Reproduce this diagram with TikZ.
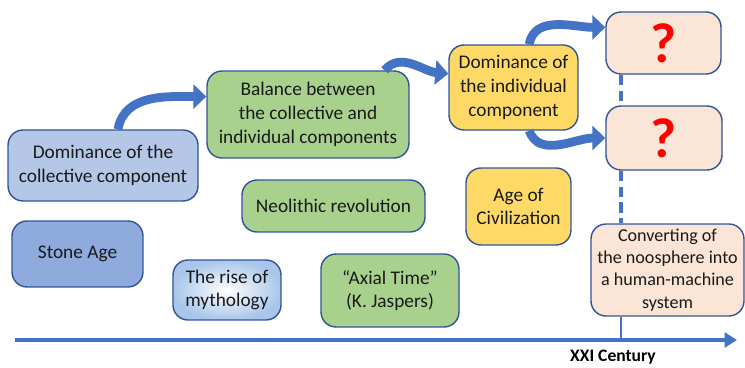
\documentclass[tikz,border=0pt]{standalone}
\usepackage{fontspec}
\setmainfont{Carlito}
\usetikzlibrary{arrows.meta}
\definecolor{boxline}{HTML}{2F5597}
\definecolor{arrowblue}{HTML}{4472C4}
\definecolor{lightblue}{HTML}{B4C7E7}
\definecolor{midblue}{HTML}{8FAADC}
\definecolor{mythblue}{HTML}{A9C6EA}
\definecolor{green}{HTML}{A9D18E}
\definecolor{yellow}{HTML}{FFD966}
\definecolor{peach}{HTML}{FBE5D6}
\definecolor{txt}{HTML}{1A1A1A}

\begin{document}
\begin{tikzpicture}[x=0.02cm, y=-0.02cm,
    box/.style={draw=boxline, line width=0.8pt, rounded corners=0.3cm, align=center,
      inner sep=2pt, text=txt, font=\fontsize{11}{13.5}\selectfont},
    query/.style={box, fill=peach, text=red, font=\fontsize{32}{32}\selectfont\bfseries},
    bigarrow/.style={draw=arrowblue, line width=5pt, -{Triangle[length=0.26cm, width=0.48cm]}}]
    \useasboundingbox (0,0) rectangle (745,368);

    \node[box, fill=lightblue, minimum width=3.8cm, minimum height=1.42cm] (coll) at (103,165.5) {Dominance of the\\collective component};
    \node[box, fill=midblue, minimum width=2.62cm, minimum height=1.32cm] (stone) at (77.5,254) {Stone Age};
    \node[box, inner color=white, outer color=mythblue, minimum width=2.16cm, minimum height=1.2cm] (myth) at (227,290) {The rise of\\mythology};
    \node[box, fill=green, minimum width=4.04cm, minimum height=1.74cm] (bal) at (308,114.5) {Balance between\\the collective and\\individual components};
    \node[box, fill=green, minimum width=3.66cm, minimum height=1.04cm] (neo) at (333.5,206) {Neolithic revolution};
    \node[box, fill=green, minimum width=2.76cm, minimum height=1.46cm] (axial) at (390,290.5) {``Axial Time''\\(K. Jaspers)};
    \node[box, fill=yellow, minimum width=2.58cm, minimum height=1.7cm] (indiv) at (513.5,87.5) {Dominance of\\the individual\\component};
    \node[box, fill=yellow, minimum width=2.1cm, minimum height=1.54cm] (civ) at (518.5,206.5) {Age of\\Civilization};
    \node[query, minimum width=2.3cm, minimum height=1.24cm] (q1) at (663.5,43) {?};
    \node[query, minimum width=2.32cm, minimum height=1.28cm] (q2) at (664,138) {?};
    \node[box, fill=peach, font=\fontsize{10.3}{12.6}\selectfont, minimum width=3.06cm, minimum height=1.84cm] (conv) at (667.5,270) {Converting of\\the noosphere into\\a human-machine\\system};

    % time axis
    \coordinate (start) at (15,340);
    \coordinate (end) at (737,340);
    \coordinate (xxi) at (621,340);
    \draw[draw=arrowblue, line width=2.2pt, -{Triangle[length=0.25cm, width=0.3cm]}] (start) -- (end);
    \node[font=\fontsize{10}{12}\selectfont\bfseries] (cent) at (613,357) {XXI Century};

    \draw[draw=arrowblue, line width=1.3pt] (conv.south -| xxi) -- (xxi);
    \draw[draw=arrowblue, line width=1.8pt, dash pattern=on 6pt off 3pt] (q1.south -| xxi) -- (q2.north -| xxi);
    \draw[draw=arrowblue, line width=1.8pt, dash pattern=on 6pt off 3pt] (q2.south -| xxi) -- (conv.north -| xxi);

    % transitions
    \draw[bigarrow] ([xshift=0.3cm]coll.north) to[out=80, in=180] (bal.170);
    \draw[bigarrow] (bal.30) to[out=50, in=175] (indiv.168);
    \draw[bigarrow] (indiv.70) to[out=80, in=180] (q1.165);
    \draw[bigarrow] (indiv.-70) to[out=-70, in=180] (q2.west);
  \end{tikzpicture}
\end{document}
